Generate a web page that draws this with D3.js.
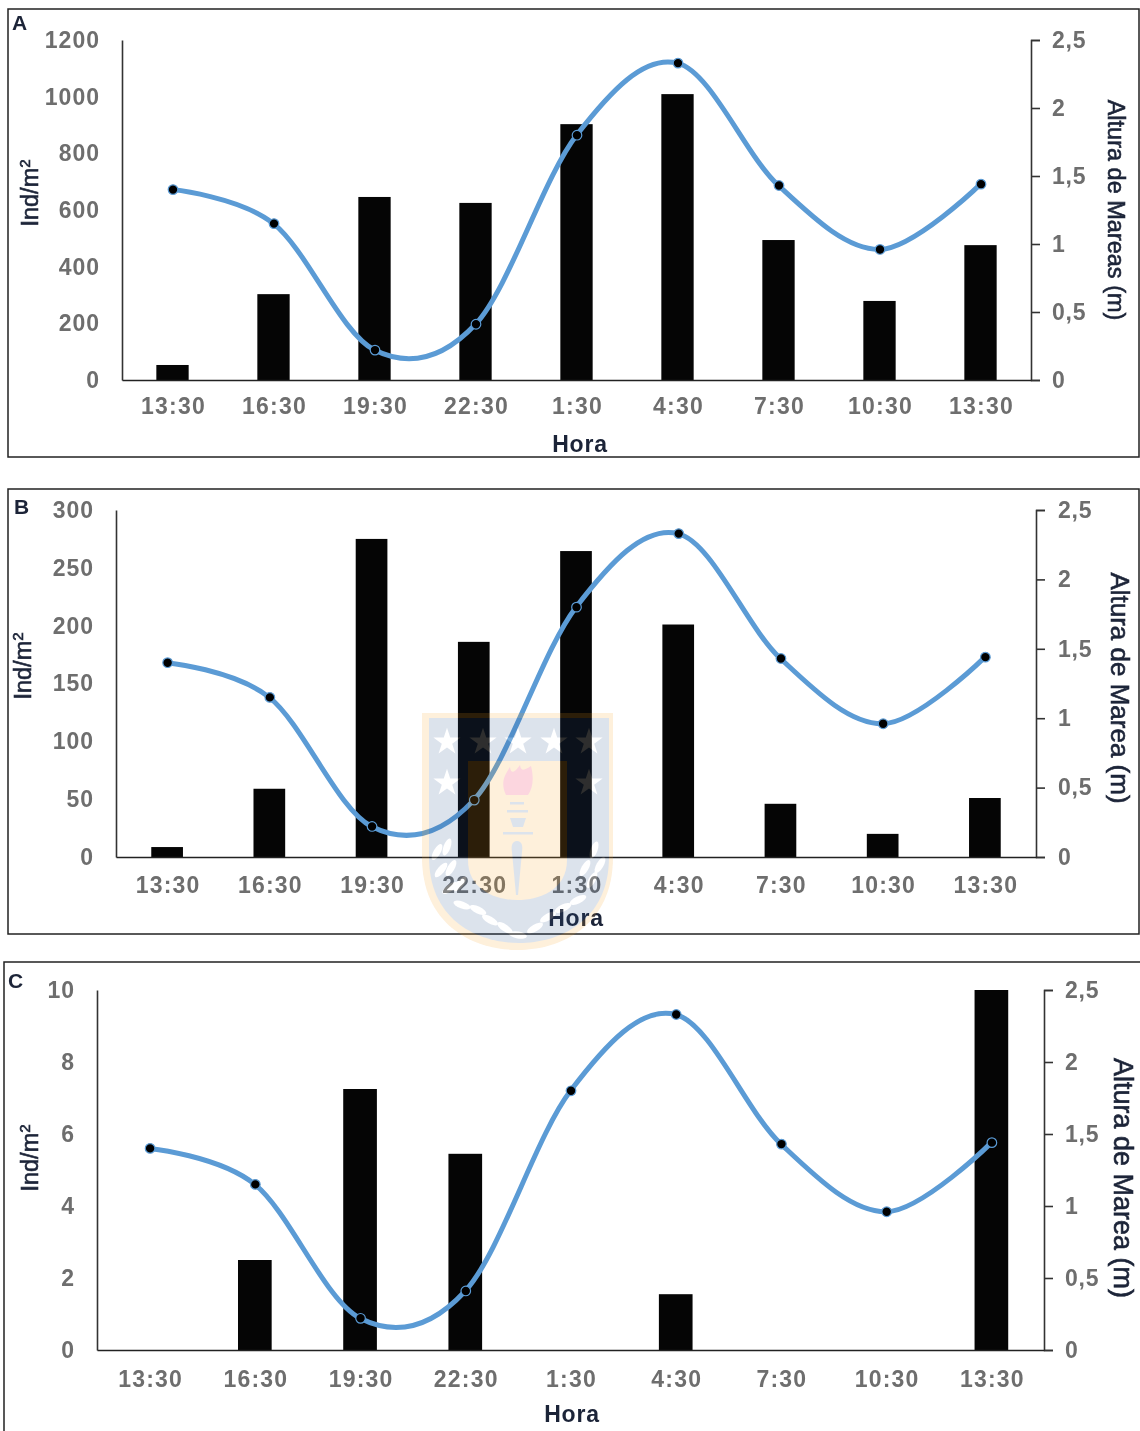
<!DOCTYPE html>
<html><head><meta charset="utf-8">
<script src="https://cdn.jsdelivr.net/npm/d3@7/dist/d3.min.js"></script>
<style>html,body{margin:0;padding:0;background:#fff}svg{display:block}
text{font-family:"Liberation Sans",Arial,sans-serif}</style></head>
<body><div id="chart"></div>
<script>
const hours = ["13:30","16:30","19:30","22:30","1:30","4:30","7:30","10:30","13:30"];
const tide = [1.40,1.15,0.22,0.41,1.80,2.33,1.43,0.96,1.44];
const tideTicks = [0,0.5,1,1.5,2,2.5];
const barsA = [53,303,646,625,903,1009,494,279,476];
const barsB = [8.6,59,275,186,264.5,201,46,20,51];
const barsC = [0,2.5,7.25,5.45,0,1.55,0,0,10];
const ticksA = [0,200,400,600,800,1000,1200];
const ticksB = [0,50,100,150,200,250,300];
const ticksC = [0,2,4,6,8,10];
const xTitle = "Hora";
const yTitle = "Ind/m";
const rightTitles = ["Altura de Mareas (m)","Altura de Marea (m)","Altura de Marea (m)"];
const letters = ["A","B","C"];

const W=1140,H=1431;
const panels=[
 {i:0,bars:barsA,ticks:ticksA,max:1200,frame:[8,9,1139,457],letter:[12,30],l:122,r:1031,t:40,b:380,lab:100,rl:1052,catY:406,hx:580,hy:444,ylx:30,yly:193,rtx:1116,rty:210,rs:23.5,barPad:.68},
 {i:1,bars:barsB,ticks:ticksB,max:300,frame:[8,489,1139,934],letter:[14,514],l:116,r:1036,t:510,b:857,lab:94,rl:1058,catY:885,hx:576,hy:918,ylx:23,yly:666,rtx:1120,rty:688,rs:26,barPad:.69},
 {i:2,bars:barsC,ticks:ticksC,max:10,frame:[4,962,1145,1440],letter:[8,988],l:97,r:1044,t:990,b:1350,lab:75,rl:1065,catY:1379,hx:572,hy:1414,ylx:30,yly:1158,rtx:1123,rty:1178,rs:27,barPad:.68}
];
const svg=d3.select("#chart").append("svg").attr("width",W).attr("height",H).attr("viewBox",[0,0,W,H]);
const root=svg.append("g").style("filter","blur(0.45px)");
const grey="#6e6e6e", navy="#1c2438", tl="#5b9bd5";
const fmt=v=>String(v).replace(".",",");

panels.forEach(p=>{
 const g=root.append("g");
 g.append("rect").attr("x",p.frame[0]).attr("y",p.frame[1]).attr("width",p.frame[2]-p.frame[0]).attr("height",p.frame[3]-p.frame[1])
  .attr("fill","none").attr("stroke","#222").attr("stroke-width",1.5);
 g.append("text").attr("x",p.letter[0]).attr("y",p.letter[1]).text(letters[p.i]).attr("font-size",21).attr("font-weight","bold").attr("fill",navy);

 const x=d3.scaleBand().domain(d3.range(hours.length)).range([p.l,p.r]).paddingInner(p.barPad).paddingOuter(p.barPad/2);
 const y=d3.scaleLinear().domain([0,p.max]).range([p.b,p.t]);
 const y2=d3.scaleLinear().domain([0,2.5]).range([p.b,p.t]);
 const cx=i=>x(i)+x.bandwidth()/2;

 g.selectAll("rect.bar").data(p.bars).join("rect").attr("class","bar")
  .attr("x",(d,i)=>x(i)).attr("width",x.bandwidth()).attr("y",d=>y(d)).attr("height",d=>p.b-y(d)).attr("fill","#050505");

 const la=g.append("g").attr("transform",`translate(${p.l},0)`).call(d3.axisLeft(y).tickValues(p.ticks).tickSize(0).tickPadding(p.l-p.lab).tickFormat(d=>d));
 la.select(".domain").attr("stroke","#333").attr("stroke-width",1.6);
 la.selectAll("text").attr("font-size",23).attr("font-family",'"Liberation Sans"').attr("fill",grey).attr("font-weight","bold").attr("letter-spacing","1px");
 const ra=g.append("g").attr("transform",`translate(${p.r},0)`).call(d3.axisRight(y2).tickValues(tideTicks).tickSize(9).tickSizeOuter(9).tickPadding(p.rl-p.r-9).tickFormat(fmt));
 ra.select(".domain").attr("stroke","#333").attr("stroke-width",1.6);
 ra.selectAll("line").attr("stroke","#333").attr("stroke-width",1.6);
 ra.selectAll("text").attr("font-size",23).attr("font-family",'"Liberation Sans"').attr("fill",grey).attr("font-weight","bold").attr("letter-spacing",".8px");
 const ba=g.append("g").attr("transform",`translate(0,${p.b})`).call(d3.axisBottom(x).tickSize(0).tickPadding(0).tickFormat(i=>hours[i]));
 ba.select(".domain").attr("stroke","#222").attr("stroke-width",1.6);
 ba.selectAll("text").attr("x",1).attr("y",p.catY-p.b).attr("dy",".35em").attr("font-size",23).attr("font-family",'"Liberation Sans"').attr("fill",grey).attr("font-weight","bold").attr("letter-spacing","1.2px");

 g.append("text").attr("x",p.hx).attr("y",p.hy).attr("dy",".35em").attr("text-anchor","middle").attr("font-size",23).attr("font-weight","bold").attr("letter-spacing",".8px").attr("fill",navy).text(xTitle);
 const yl=g.append("text").attr("transform",`translate(${p.ylx},${p.yly}) rotate(-90)`).attr("dy",".35em").attr("text-anchor","middle").attr("font-size",23.5).attr("fill",navy).attr("stroke",navy).attr("stroke-width",.6);
 yl.append("tspan").text(yTitle);
 yl.append("tspan").text("2").attr("font-size",15).attr("dy","-8");
 g.append("text").attr("transform",`translate(${p.rtx},${p.rty}) rotate(90)`).attr("dy",".35em").attr("text-anchor","middle").attr("font-size",p.rs).attr("fill",navy).attr("stroke",navy).attr("stroke-width",.6).text(rightTitles[p.i]);

 const line=d3.line().x((d,i)=>cx(i)).y(d=>y2(d)).curve(d3.curveCatmullRom.alpha(0));
 g.append("path").attr("d",line(tide)).attr("fill","none").attr("stroke",tl).attr("stroke-width",5).attr("stroke-linecap","round");
 g.selectAll("circle.pt").data(tide).join("circle").attr("class","pt").attr("cx",(d,i)=>cx(i)+.5).attr("cy",d=>y2(d)).attr("r",4.8)
  .attr("fill","#000").attr("stroke",tl).attr("stroke-width",1.2);
});

const wm=root.append("g").attr("opacity",.16);
const shield=(l,r,t,s,b)=>`M${l},${t}H${r}V${s}C${r},${b-(b-s)*.25} ${(l+r)/2+(r-l)*.22},${b} ${(l+r)/2},${b}C${(l+r)/2-(r-l)*.22},${b} ${l},${b-(b-s)*.25} ${l},${s}Z`;
wm.append("path").attr("d",shield(422,613,713,857,950)).attr("fill","#f7a020");
wm.append("path").attr("d",shield(429,609,718,857,943)).attr("fill","#2a528c");
wm.append("path").attr("d",shield(468,567,761,860,900)).attr("fill","#f7a020");
const star=d3.symbol().type(d3.symbolStar).size(230);
[[447,742],[483,742],[518,742],[554,742],[589,742],[447,783],[589,783]].forEach(s=>wm.append("path").attr("d",star()).attr("transform",`translate(${s[0]},${s[1]})`).attr("fill","#fff"));
wm.append("path").attr("d","M506,795C500,782 505,775 510,767C511,775 515,772 520,765C521,772 525,770 531,766C534,778 533,788 528,795Z").attr("fill","#e8003c");
[[510,524,803,2.5],[507,528,811,2.5],[503,533,833,2.5]].forEach(b=>wm.append("rect").attr("x",b[0]).attr("y",b[2]-1).attr("width",b[1]-b[0]).attr("height",b[3]).attr("fill","#2a528c"));
wm.append("path").attr("d","M510,818H526L523,827H513Z").attr("fill","#2a528c");
wm.append("path").attr("d","M517,841C522,841 523,846 522,852L518,895H516L512,852C511,846 512,841 517,841Z").attr("fill","#2a528c");
const leaves=[[437,852,-60],[447,847,-70],[441,870,-50],[451,868,-60],[450,888,-35],[460,884,-50],[462,905,20],[478,910,25],[490,920,30],[505,928,35],[518,935,10],[535,928,-30],[548,917,-30],[563,908,-25],[578,900,-25],[592,880,-60],[600,865,-60],[585,868,-60],[594,850,-70]];
leaves.forEach(l=>wm.append("ellipse").attr("rx",9).attr("ry",3.5).attr("transform",`translate(${l[0]},${l[1]}) rotate(${l[2]})`).attr("fill","#fff"));
</script></body></html>
